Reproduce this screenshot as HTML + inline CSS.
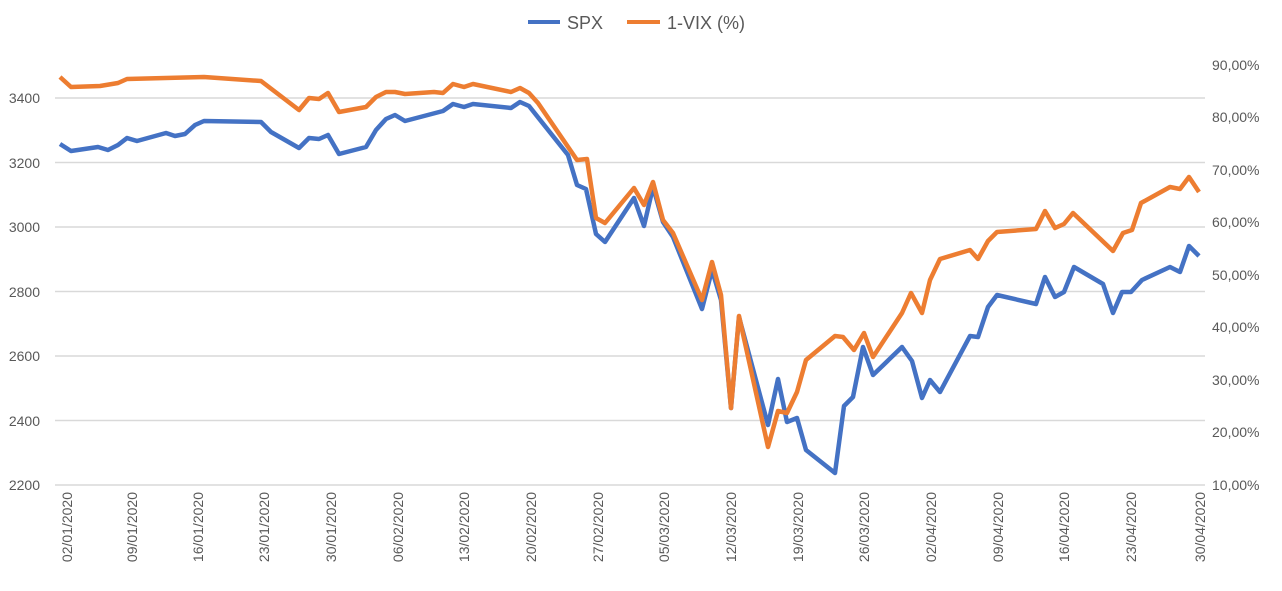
<!DOCTYPE html>
<html><head><meta charset="utf-8"><style>
body{margin:0;background:#fff;}
svg{display:block;font-family:"Liberation Sans",sans-serif;}
</style></head><body>
<svg width="1282" height="591" viewBox="0 0 1282 591" xmlns="http://www.w3.org/2000/svg">
<g stroke="#d9d9d9" stroke-width="1.5">
<line x1="55" x2="1205" y1="98" y2="98"/><line x1="55" x2="1205" y1="162.5" y2="162.5"/>
<line x1="55" x2="1205" y1="227" y2="227"/><line x1="55" x2="1205" y1="291.5" y2="291.5"/>
<line x1="55" x2="1205" y1="356" y2="356"/><line x1="55" x2="1205" y1="420.5" y2="420.5"/>
<line x1="55" x2="1205" y1="485" y2="485"/>
</g>
<g fill="#595959" font-size="14" text-anchor="end">
<text x="40" y="103">3400</text><text x="40" y="168">3200</text><text x="40" y="232">3000</text>
<text x="40" y="297">2800</text><text x="40" y="361">2600</text><text x="40" y="426">2400</text><text x="40" y="490">2200</text>
</g>
<g fill="#595959" font-size="14">
<text x="1212" y="70">90,00%</text><text x="1212" y="122">80,00%</text><text x="1212" y="175">70,00%</text>
<text x="1212" y="227">60,00%</text><text x="1212" y="280">50,00%</text><text x="1212" y="332">40,00%</text>
<text x="1212" y="385">30,00%</text><text x="1212" y="437">20,00%</text><text x="1212" y="490">10,00%</text>
</g>
<g fill="#595959" font-size="14" text-anchor="end">
<text transform="translate(72,492) rotate(-90)">02/01/2020</text>
<text transform="translate(137,492) rotate(-90)">09/01/2020</text>
<text transform="translate(203,492) rotate(-90)">16/01/2020</text>
<text transform="translate(269,492) rotate(-90)">23/01/2020</text>
<text transform="translate(336,492) rotate(-90)">30/01/2020</text>
<text transform="translate(403,492) rotate(-90)">06/02/2020</text>
<text transform="translate(469,492) rotate(-90)">13/02/2020</text>
<text transform="translate(536,492) rotate(-90)">20/02/2020</text>
<text transform="translate(603,492) rotate(-90)">27/02/2020</text>
<text transform="translate(669,492) rotate(-90)">05/03/2020</text>
<text transform="translate(736,492) rotate(-90)">12/03/2020</text>
<text transform="translate(803,492) rotate(-90)">19/03/2020</text>
<text transform="translate(869,492) rotate(-90)">26/03/2020</text>
<text transform="translate(936,492) rotate(-90)">02/04/2020</text>
<text transform="translate(1003,492) rotate(-90)">09/04/2020</text>
<text transform="translate(1069,492) rotate(-90)">16/04/2020</text>
<text transform="translate(1136,492) rotate(-90)">23/04/2020</text>
<text transform="translate(1205,492) rotate(-90)">30/04/2020</text>
</g>
<polyline fill="none" stroke="#4472c4" stroke-width="4.5" stroke-linejoin="round" points="60,144 71,151 98,147 108,150 118,145 127,138 137,141 166,133 175,136 185,134 195,125 204,121 261,122 271,132 299,148 309,138 319,139 328,135 339,154 366,147 376,130 386,119 395,115 405,121 443,111 453,104 464,107 473,104 511,108 520,102 529,106 568,155 577,185 586,189 596,234 605,242 634,198 644,226 653,187 663,222 673,237 702,309 712,270 721,300 731,408 739,317 768,425 778,379 787,422 797,418 806,450 835,473 844,406 853,397 863,347 873,375 902,347 912,361 922,398 930,380 940,392 970,336 978,337 988,307 997,295 1036,304 1045,277 1055,297 1064,292 1074,267 1103,284 1113,313 1122,292 1131,292 1142,280 1170,267 1180,272 1189,246 1199,256"/>
<polyline fill="none" stroke="#ed7d31" stroke-width="4.5" stroke-linejoin="round" points="60,77 71,87 100,86 118,83 127,79 204,77 261,81 299,110 309,98 319,99 328,93 339,112 366,107 376,97 386,92 395,92 405,94 434,92 443,93 453,84 464,87 473,84 511,92 520,88 529,93 538,103 577,160 587,159 596,218 605,223 634,188 644,205 653,182 663,220 673,233 702,300 712,262 721,295 731,408 739,316 768,447 778,411 787,413 797,392 806,360 835,336 843,337 854,350 864,333 873,357 902,313 911,293 922,313 930,280 940,259 970,250 978,259 988,241 997,232 1036,229 1045,211 1055,228 1064,224 1073,213 1113,251 1123,233 1132,230 1141,203 1170,187 1180,189 1189,177 1199,192"/>
<line x1="528" x2="560" y1="22" y2="22" stroke="#4472c4" stroke-width="4"/>
<text x="567" y="29" font-size="18" fill="#595959">SPX</text>
<line x1="627" x2="660" y1="22" y2="22" stroke="#ed7d31" stroke-width="4"/>
<text x="667" y="29" font-size="18" fill="#595959">1-VIX (%)</text>
</svg>
</body></html>
